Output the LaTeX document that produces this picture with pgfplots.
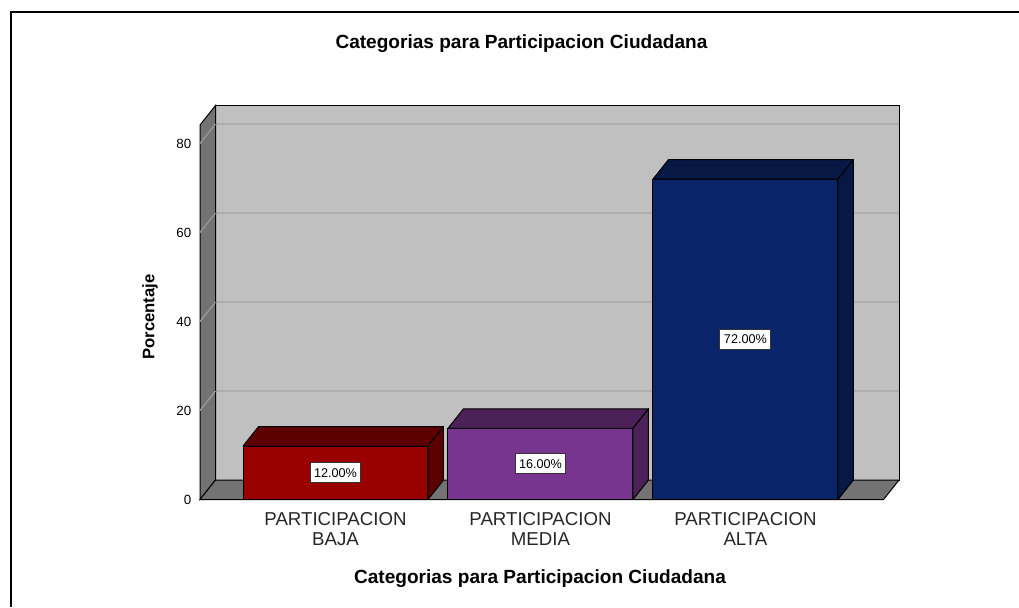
\documentclass[border=0pt]{standalone}
\usepackage{pgfplots}
\pgfplotsset{compat=1.18}
\usepackage{pgfplotstable}
\usepackage{fontspec}
\setmainfont{Liberation Sans}

\definecolor{wall}{HTML}{C0C0C0}
\definecolor{sidewall}{HTML}{737373}
\definecolor{gridc}{HTML}{AEAEAE}
\definecolor{gridside}{HTML}{9A9A9A}
\definecolor{front0}{HTML}{990000}
\definecolor{top0}{HTML}{5C0000}
\definecolor{front1}{HTML}{783590}
\definecolor{top1}{HTML}{4B2158}
\definecolor{front2}{HTML}{0A246A}
\definecolor{top2}{HTML}{061843}

\pgfplotstableread{
x v
0 12
1 16
2 72
}\datatable

\begin{document}
\begin{tikzpicture}
\path[use as bounding box] (0,0) rectangle (764.25pt,-455.25pt);
% outer frame
\draw[line width=1.5pt] (7.9pt,-455.25pt) -- (7.9pt,-9.2pt) -- (764.25pt,-9.2pt);

\begin{axis}[
  at={(150pt,-374.625pt)}, anchor=south west,
  scale only axis, width=524.25pt, height=295.5pt,
  xmin=-0.661, xmax=2.749, ymin=0, ymax=88.54,
  clip=false,
  axis line style={draw=none},
  major tick length=0pt,
  ytick={0,20,40,60,80},
  xtick={0,1,2},
  xticklabels={PARTICIPACION\\BAJA, PARTICIPACION\\MEDIA, PARTICIPACION\\ALTA},
  xticklabel style={align=center, font=\fontsize{14}{15}\selectfont, text=black!85, yshift=-6pt},
  yticklabel style={font=\fontsize{10}{12}\selectfont, xshift=-3pt},
  /pgf/number format/assume math mode=true,
]
% back wall
\fill[wall, draw=black, line width=0.75pt] (axis cs:-0.5854,4.38) -- (axis cs:-0.5854,88.54) -- (axis cs:2.749,88.54) -- (axis cs:2.749,4.38) -- cycle;
% grid lines on back wall
\draw[gridc, line width=0.9pt] (axis cs:-0.5854,24.38) -- (axis cs:2.749,24.38);
\draw[gridc, line width=0.9pt] (axis cs:-0.5854,44.38) -- (axis cs:2.749,44.38);
\draw[gridc, line width=0.9pt] (axis cs:-0.5854,64.38) -- (axis cs:2.749,64.38);
\draw[gridc, line width=0.9pt] (axis cs:-0.5854,84.38) -- (axis cs:2.749,84.38);
% side wall
\fill[sidewall, draw=black, line width=0.75pt] (axis cs:-0.661,0) -- (axis cs:-0.661,84.16) -- (axis cs:-0.5854,88.54) -- (axis cs:-0.5854,4.38) -- cycle;
\draw[gridside, line width=0.9pt] (axis cs:-0.661,20) -- (axis cs:-0.5854,24.38);
\draw[gridside, line width=0.9pt] (axis cs:-0.661,40) -- (axis cs:-0.5854,44.38);
\draw[gridside, line width=0.9pt] (axis cs:-0.661,60) -- (axis cs:-0.5854,64.38);
\draw[gridside, line width=0.9pt] (axis cs:-0.661,80) -- (axis cs:-0.5854,84.38);
% floor
\fill[sidewall, draw=black, line width=0.75pt] (axis cs:-0.661,0) -- (axis cs:2.6734,0) -- (axis cs:2.749,4.38) -- (axis cs:-0.5854,4.38) -- cycle;

% top and side faces of the bars
\pgfplotsinvokeforeach{0,1,2}{
  \pgfplotstablegetelem{#1}{v}\of\datatable
  \pgfmathsetmacro\va{\pgfplotsretval}
  \pgfmathsetmacro\vb{\pgfplotsretval+4.38}
  \pgfmathsetmacro\xa{#1-0.4512}
  \pgfmathsetmacro\xb{#1+0.4512}
  \pgfmathsetmacro\xc{#1-0.4512+0.0756}
  \pgfmathsetmacro\xd{#1+0.4512+0.0756}
  \edef\cmd{%
    \noexpand\fill[top#1, draw=black, line width=0.75pt, line join=round] (axis cs:\xa,\va) -- (axis cs:\xc,\vb) -- (axis cs:\xd,\vb) -- (axis cs:\xb,\va) -- cycle;
    \noexpand\fill[top#1, draw=black, line width=0.75pt, line join=round] (axis cs:\xb,0) -- (axis cs:\xb,\va) -- (axis cs:\xd,\vb) -- (axis cs:\xd,4.38) -- cycle;
  }%
  \cmd
}

% front faces
\addplot[ybar, bar width=0.9024, bar shift=0pt, fill=front0, draw=black, line width=0.75pt, restrict x to domain=-0.5:0.5] table[x=x, y=v] {\datatable};
\addplot[ybar, bar width=0.9024, bar shift=0pt, fill=front1, draw=black, line width=0.75pt, restrict x to domain=0.5:1.5] table[x=x, y=v] {\datatable};
\addplot[ybar, bar width=0.9024, bar shift=0pt, fill=front2, draw=black, line width=0.75pt, restrict x to domain=1.5:2.5] table[x=x, y=v] {\datatable};

% value labels
\addplot[draw=none, mark=none, point meta=explicit,
  nodes near coords={\pgfmathprintnumber[fixed, fixed zerofill, precision=2]{\pgfplotspointmeta}\%},
  every node near coord/.append style={anchor=center, fill=white, draw=black!80, line width=0.75pt,
    font=\fontsize{9.5}{11}\selectfont, text=black, inner xsep=3pt, inner ysep=4pt, text height=6.8pt, text depth=0.3pt}]
  table[x=x, y expr=\thisrow{v}/2, meta=v] {\datatable};
\end{axis}

% titles
\node[font=\bfseries\fontsize{14.3}{16}\selectfont] at (391.1pt,-32.5pt) {Categorias para Participacion Ciudadana};
\node[font=\bfseries\fontsize{14.3}{16}\selectfont] at (405pt,-434.25pt) {Categorias para Participacion Ciudadana};
\node[font=\bfseries\fontsize{12.5}{14}\selectfont, rotate=90] at (112.5pt,-237.75pt) {Porcentaje};
\end{tikzpicture}
\end{document}
